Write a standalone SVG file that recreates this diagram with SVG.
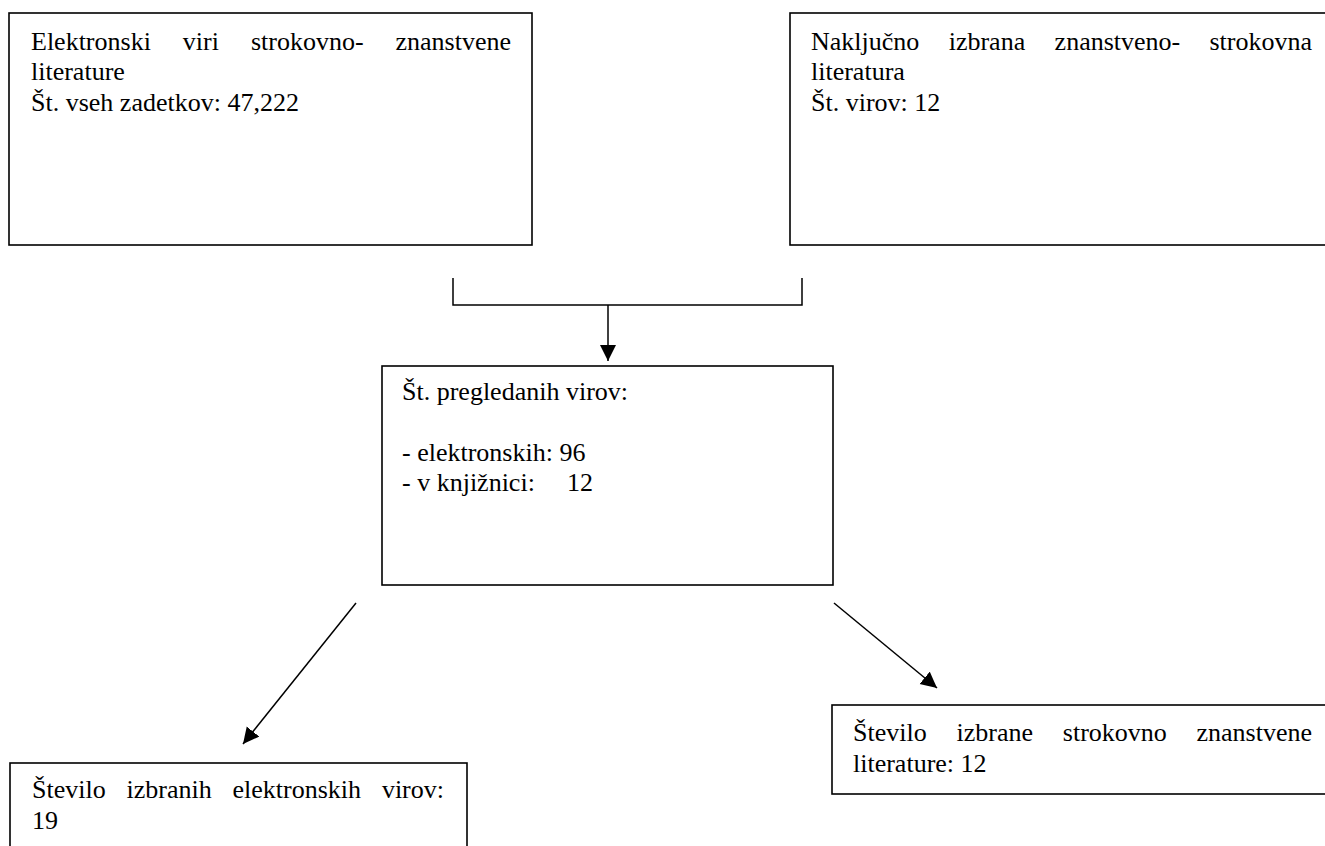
<svg xmlns="http://www.w3.org/2000/svg" width="1325" height="846" viewBox="0 0 1325 846">
<style>
.box{fill:#fff;stroke:#000;stroke-width:1.6}
.t{font-family:"Liberation Serif","Times New Roman",serif;font-size:26px;fill:#000}
.e{text-anchor:end}
.c{fill:none;stroke:#000;stroke-width:1.5}
</style>
<defs>
<marker id="ah" markerUnits="userSpaceOnUse" markerWidth="18" markerHeight="18" refX="16" refY="8" orient="auto">
<path d="M0,0 L16,8 L0,16 Z" fill="#000"/>
</marker>
</defs>
<rect width="1325" height="846" fill="#fff"/>
<g id="connectors">
<path class="c" d="M453,278 V305 H802 V278"/>
<path class="c" d="M608,305 V361" marker-end="url(#ah)"/>
<path class="c" d="M356,603 L243,744" marker-end="url(#ah)"/>
<path class="c" d="M834,603 L937,688" marker-end="url(#ah)"/>
</g>
<g id="node1">
<rect class="box" x="9" y="13" width="523" height="232"/>
<text class="t" y="50"><tspan x="31">Elektronski</tspan><tspan x="182.8">viri</tspan><tspan x="251">strokovno-</tspan></text>
<text class="t e" x="511" y="50">znanstvene</text>
<text class="t" x="31" y="80">literature</text>
<text class="t" x="31" y="111">Št. vseh zadetkov: 47,222</text>
</g>
<g id="node2">
<rect class="box" x="790" y="13" width="545" height="232"/>
<text class="t" y="50"><tspan x="811">Naključno</tspan><tspan x="948.7">izbrana</tspan><tspan x="1054.6">znanstveno-</tspan></text>
<text class="t e" x="1312" y="50">strokovna</text>
<text class="t" x="811" y="80">literatura</text>
<text class="t" x="811" y="111">Št. virov: 12</text>
</g>
<g id="node3">
<rect class="box" x="382" y="366" width="451" height="219"/>
<text class="t" x="402" y="400">Št. pregledanih virov:</text>
<text class="t" x="402" y="461">- elektronskih: 96</text>
<text class="t" y="491"><tspan x="402">- v knjižnici:</tspan><tspan x="567">12</tspan></text>
</g>
<g id="node4">
<rect class="box" x="10" y="763" width="457" height="100"/>
<text class="t" y="798"><tspan x="32">Število</tspan><tspan x="126.5">izbranih</tspan><tspan x="232.5">elektronskih</tspan></text>
<text class="t e" x="444" y="798">virov:</text>
<text class="t" x="32" y="829">19</text>
</g>
<g id="node5">
<rect class="box" x="832" y="705" width="503" height="89"/>
<text class="t" y="741"><tspan x="853">Število</tspan><tspan x="956.5">izbrane</tspan><tspan x="1062.8">strokovno</tspan></text>
<text class="t e" x="1312" y="741">znanstvene</text>
<text class="t" x="853" y="772">literature: 12</text>
</g>
</svg>
